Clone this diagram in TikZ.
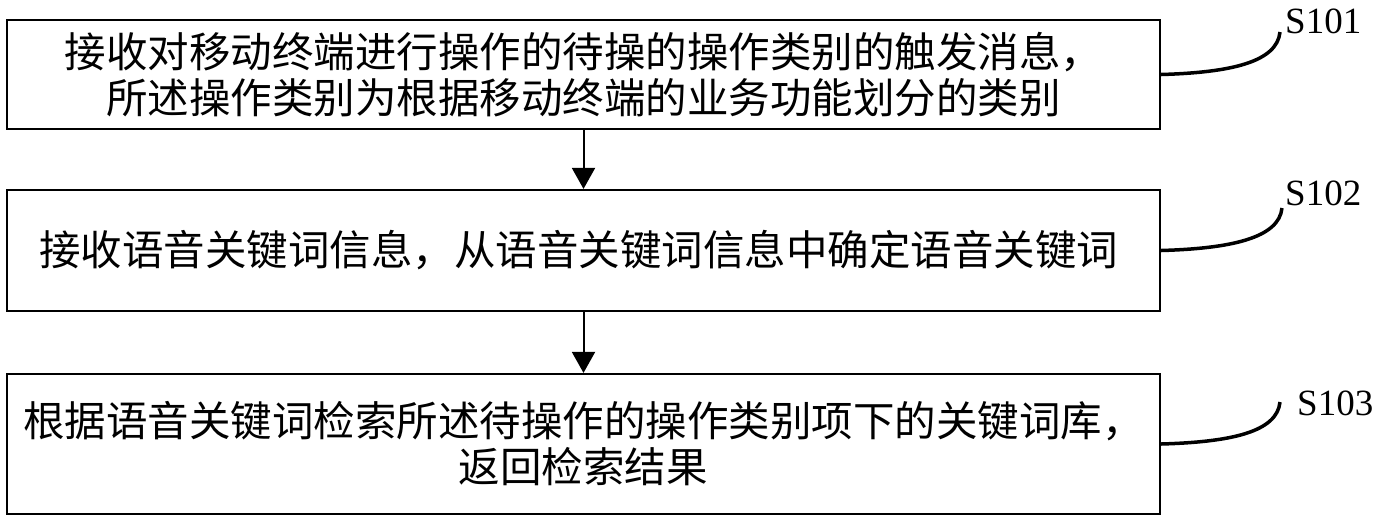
\documentclass[tikz,border=0pt]{standalone}
\usepackage{fontspec}
\setmainfont{Liberation Serif}
\newfontfamily\cjkfont{Noto Sans CJK SC}
\usetikzlibrary{arrows.meta}

\begin{document}
\begin{tikzpicture}[x=1pt, y=-1pt]
    % --- Dimensions (1 unit = 1 px of the layout) ---
    \def\TotalW{1385}    % Total Width
    \def\TotalH{523}     % Total Height
    \def\BoxW{1153}      % Width of the step boxes
    \def\MidX{583.5}     % Centre line of the boxes

    % --- Styles ---
    \tikzset{
        stage box/.style={
            draw=black,
            line width=2.2pt,
            minimum width=\BoxW pt,
            inner sep=0pt,
            align=center,
            font=\cjkfont\fontsize{41.5}{46}\selectfont
        },
        flow arrow/.style={
            line width=2pt,
            -{Triangle[length=21pt, width=23pt]}
        },
        lead line/.style={
            line width=3.5pt
        },
        stage label/.style={
            anchor=base west,
            inner sep=0pt,
            font=\fontsize{37}{40}\selectfont
        }
    }

    % Canvas
    \fill[white] (0,0) rectangle (\TotalW,\TotalH);
    \useasboundingbox (0,0) rectangle (\TotalW,\TotalH);

    % =========================================================
    % 1. STEP BOXES
    % =========================================================
    \node[stage box, minimum height=109pt] (box1) at (\MidX, 74.5) {
        接收对移动终端进行操作的待操的操作类别的触发消息，\\
        所述操作类别为根据移动终端的业务功能划分的类别
    };

    \node[stage box, minimum height=121pt] (box2) at (\MidX, 250.5) {
        接收语音关键词信息，从语音关键词信息中确定语音关键词
    };

    \node[stage box, minimum height=140pt] (box3) at (\MidX, 444) {
        根据语音关键词检索所述待操作的操作类别项下的关键词库，\\
        返回检索结果
    };

    % =========================================================
    % 2. FLOW ARROWS
    % =========================================================
    \draw[flow arrow] (box1) -- (box2);
    \draw[flow arrow] (box2) -- (box3);

    % =========================================================
    % 3. STEP LABELS + LEAD LINES
    % =========================================================
    \node[stage label] (s101) at (1285, 33) {S101};
    \node[stage label] (s102) at (1285, 205) {S102};
    \node[stage label] (s103) at (1297, 415) {S103};

    \draw[lead line] (box1.east) .. controls +(70,-2) and +(-3,30) .. ([shift={(-5,-1)}]s101.base west);
    \draw[lead line] (box2.east) .. controls +(70,-2) and +(-3,30) .. ([shift={(-3,3)}]s102.base west);
    \draw[lead line] (box3.east) .. controls +(70,-2) and +(-3,30) .. ([shift={(-17,-13)}]s103.base west);

\end{tikzpicture}
\end{document}
